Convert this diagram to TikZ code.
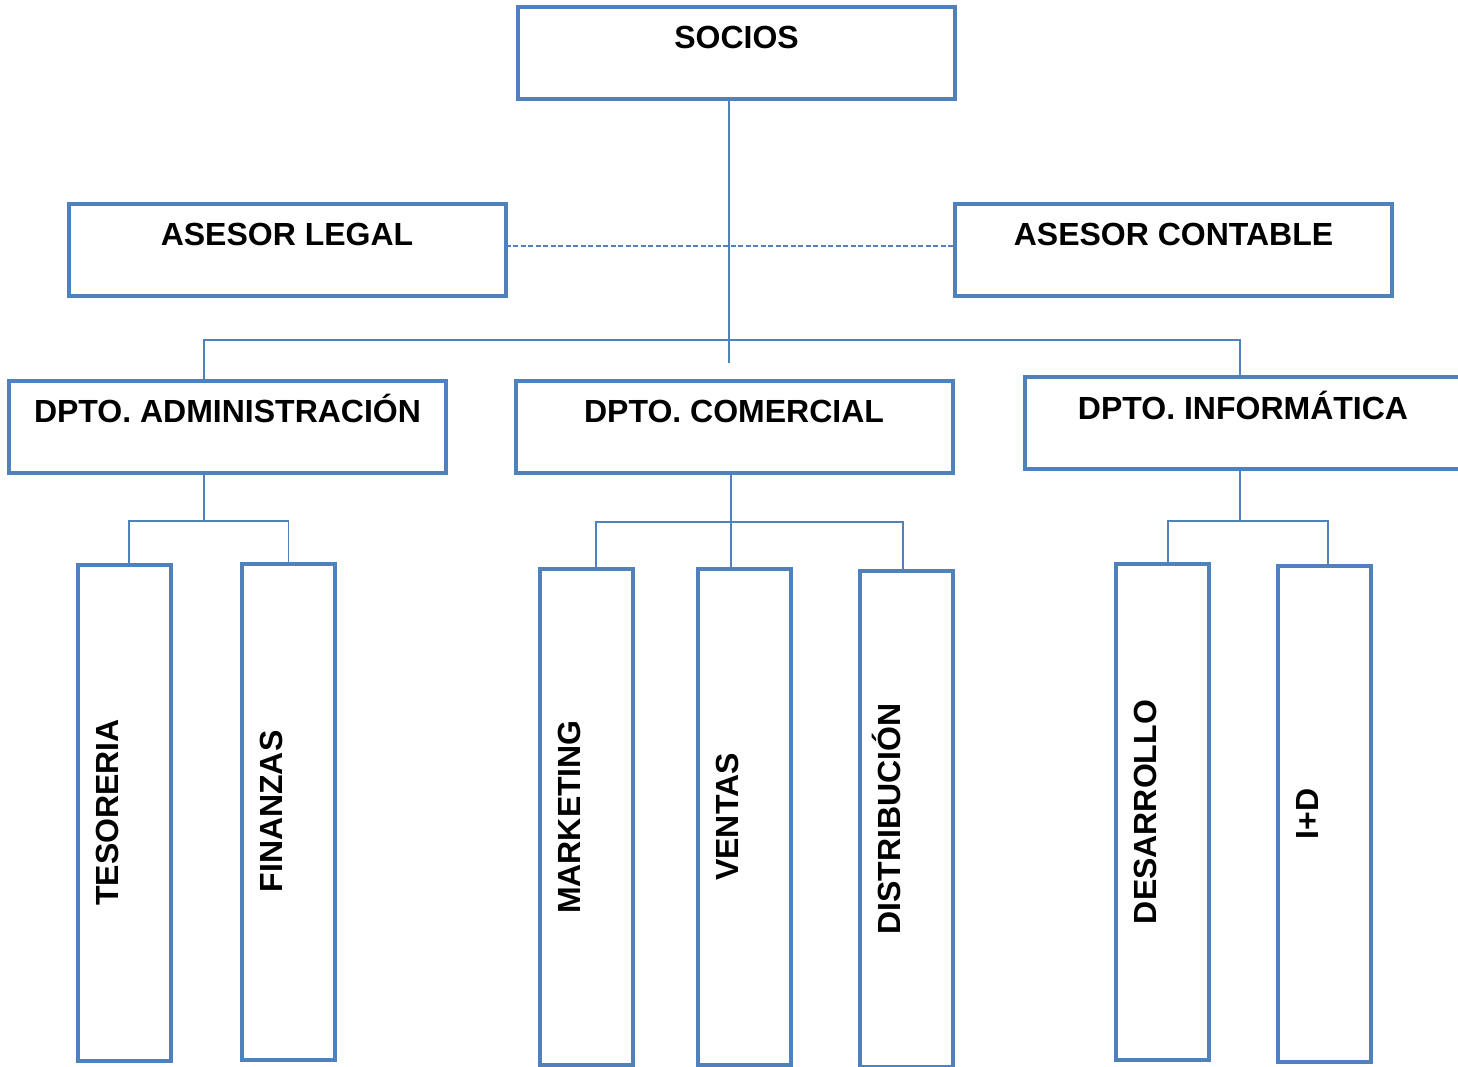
\documentclass[tikz,border=0pt]{standalone}
\usepackage{fontspec}
\setmainfont{Liberation Sans}
\definecolor{ofblue}{HTML}{4F81BD}
\begin{document}
\begin{tikzpicture}[x=1pt, y=-1pt,
	box/.style = {draw=ofblue, line width=4pt, inner sep=0pt, outer sep=0pt, minimum width=437pt, text height=42pt, text depth=50pt, font=\fontsize{32}{38}\selectfont\bfseries},
	vbox/.style = {box, rotate=90, minimum width=496pt, text height=40.5pt, text depth=52.5pt},
	conn/.style = {draw=ofblue, line width=1.8pt},
	adv/.style = {conn, line width=1.5pt, dash pattern=on 5pt off 2.5pt}]
	\useasboundingbox (0,0) rectangle (1458,1067);
	\clip (0,0) rectangle (1458,1067);
		\node[box] (soc) at (736.5,53) {SOCIOS};
		\node[box] (leg) at (287,250) {ASESOR LEGAL};
		\node[box] (cont) at (1173.5,250) {ASESOR CONTABLE};
		\node[box] (adm) at (227.5,426.5) {DPTO. ADMINISTRACIÓN};
		\node[box] (com) at (734,426.5) {DPTO. COMERCIAL};
		\node[box] (inf) at (1243,423) {DPTO. INFORMÁTICA};
		\node[vbox] (tes) at (124,812.5) {TESORERIA};
		\node[vbox] (fin) at (288.5,811.5) {FINANZAS};
		\node[vbox] (mkt) at (586.5,817) {MARKETING};
		\node[vbox] (ven) at (744.5,817) {VENTAS};
		\node[vbox] (dis) at (906,819) {DISTRIBUCIÓN};
		\node[vbox] (des) at (1162.5,812) {DESARROLLO};
		\node[vbox] (imd) at (1324.5,814) {I+D};
		\coordinate (hub) at (729,363);
		\draw[conn] (soc.south -| hub) -- (hub);
		\draw[adv] ([yshift=4pt]leg.east) -- ([yshift=4pt]cont.west);
		\draw[conn] ([xshift=-23.5pt]adm.north) -- ++(0,-40.5) -| ([xshift=-3pt]inf.north);
		% administracion
		\draw[conn] ([xshift=-23.5pt]adm.south) -- ++(0,48.5);
		\draw[conn] ([xshift=5pt]tes.east) -- ++(0,-43.5) -| (fin.east);
		% comercial
		\draw[conn] ([xshift=-3pt]com.south) -- ([xshift=-13.5pt]ven.east);
		\draw[conn] ([xshift=9.5pt]mkt.east) -- ++(0,-47) -| ([xshift=-3pt]dis.east);
		% informatica
		\draw[conn] ([xshift=-3pt]inf.south) -- ++(0,52);
		\draw[conn] ([xshift=5.5pt]des.east) -- ++(0,-43) -| ([xshift=3.5pt]imd.east);
\end{tikzpicture}
\end{document}
